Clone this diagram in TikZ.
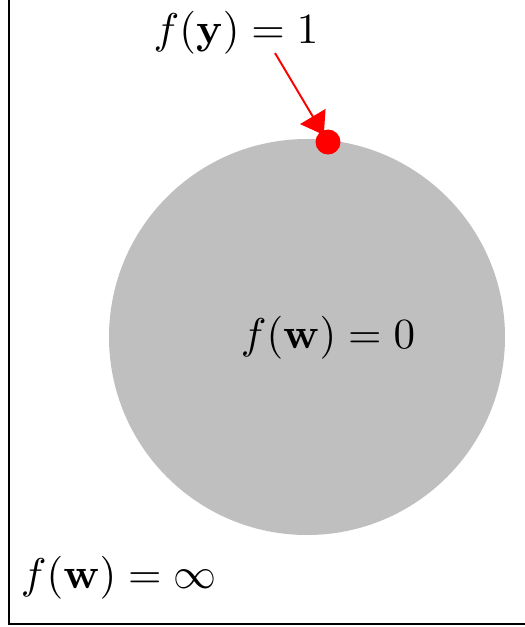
\documentclass[tikz,border=0pt]{standalone}
\usetikzlibrary{arrows.meta}
\begin{document}
\begin{tikzpicture}[x=0.2326pt,y=-0.2326pt,
  lbl/.style={inner sep=0pt,font=\normalsize},
  pt/.style={circle,fill=red,inner sep=0pt,minimum size=25*0.2326pt}]
\useasboundingbox (0,0) rectangle (525,627);
\begin{scope}
\clip (0,0) rectangle (525,627);
\draw[line width=0.35pt] (9,-10) -- (9,624) -- (540,624);
\end{scope}
\fill[lightgray] (307,337) circle[radius=198];
\node[pt] (dot) at (328,142) {};
\node[lbl] (top) at (236,33) {$f(\mathbf{y})=1$};
\node[lbl] (mid) at (328,338) {$f(\mathbf{w})=0$};
\node[lbl,anchor=west] (bot) at (20,578) {$f(\mathbf{w})=\infty$};
\coordinate (s) at (275,53);
\draw[red,line width=0.45pt,shorten >=-1.2pt,-{Triangle[length=5pt,width=6.8pt]}] (s) -- (dot);
\end{tikzpicture}
\end{document}
